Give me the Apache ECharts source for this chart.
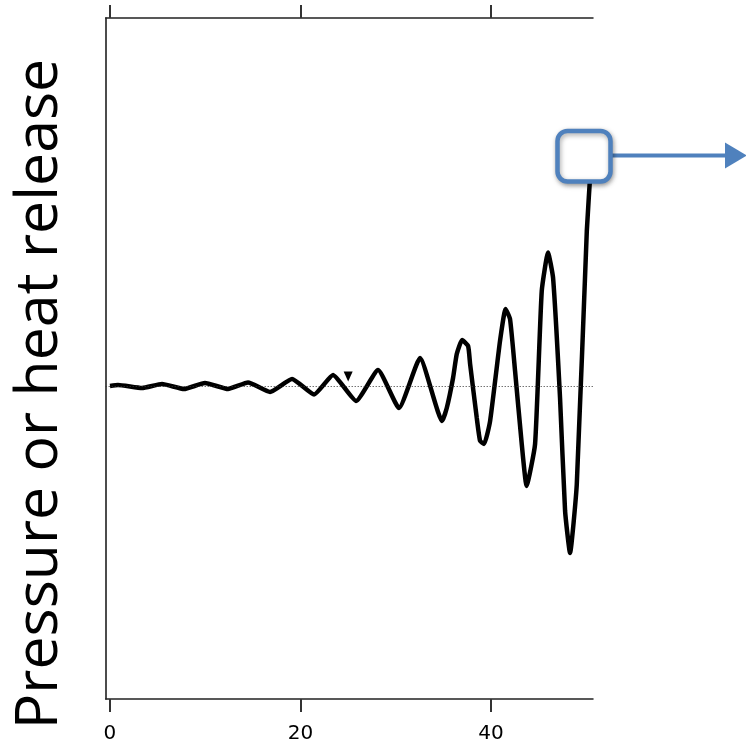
<!DOCTYPE html>
<html>
<head>
<meta charset="utf-8">
<script src="https://cdn.jsdelivr.net/npm/echarts@6/dist/echarts.min.js"></script>
<style>
	html, body { margin: 0; padding: 0; background: #fff; }
	#main { width: 746px; height: 745px; }
</style>
</head>
<body>
<div id="main"></div>
<script>
// time axis values and the oscillation (arbitrary units, zero = mean level)
var timeValues = [0, 0.84, 3.36, 5.46, 7.77, 9.97, 12.39, 14.49, 16.8, 19.11, 21.42, 23.41,
	25.83, 28.14, 30.34, 32.55, 34.86, 35.35, 36.01, 36.4, 36.96, 37.59, 37.8, 38.5, 38.85,
	39.27, 39.9, 40.94, 41.52, 41.99, 42.52, 43.22, 43.73, 44.62, 45.32, 45.98, 46.51, 47.24,
	47.77, 48.29, 49.0, 50.05, 50.5];
var signalValues = [0, 0.1, -0.2, 0.2, -0.3, 0.3, -0.3, 0.35, -0.6, 0.7, -0.85, 1.1,
	-1.5, 1.6, -2.2, 2.8, -3.5, -2.2, 0.8, 3.2, 4.6, 4.0, 2.2, -3.2, -5.5,
	-5.8, -3.5, 4.5, 7.7, 6.7, 1.5, -5.8, -10.0, -5.8, 9.5, 13.35, 10.8, -1.2,
	-12.5, -16.7, -9.8, 15.5, 22.5];
var tickValues = [0, 20, 40];
var markerX = [25];
var markerY = [0.95];
var yLabel = 'Pressure or heat release';

var chart = echarts.init(document.getElementById('main'));

var lineData = [];
timeValues.map(function(t, i) {
	lineData.push([t, signalValues[i]]);
});
var markerData = [];
markerX.map(function(t, i) {
	markerData.push([t, markerY[i]]);
});

var blue = '#4F81BD';

function timeAxis(pos, showLabel) {
	return {
		type: 'value',
		position: pos,
		min: -0.45,
		max: 50.7,
		axisLine: { show: true, onZero: false, lineStyle: { color: '#222', width: 1.5 } },
		axisTick: {
			show: true,
			customValues: tickValues,
			length: 13,
			lineStyle: { color: '#333', width: 2 }
		},
		axisLabel: {
			show: showLabel,
			customValues: tickValues,
			margin: 25,
			color: '#000',
			fontSize: 20,
			fontFamily: 'DejaVu Sans'
		},
		splitLine: { show: false }
	};
}

var option = {
	animation: false,
	backgroundColor: '#fff',
	grid: {
		left: 105.7,
		right: 153,
		top: 18,
		bottom: 46
	},
	xAxis: [timeAxis('bottom', true), timeAxis('top', false)],
	yAxis: {
		type: 'value',
		min: -31.3,
		max: 36.8,
		axisLine: { show: true, onZero: false, lineStyle: { color: '#111', width: 1.5 } },
		axisTick: { show: false },
		axisLabel: { show: false },
		splitLine: { show: false }
	},
	series: [{
		type: 'line',
		data: lineData,
		showSymbol: false,
		smooth: 0.15,
		lineStyle: { color: '#000', width: 4.5 },
		z: 3,
		markLine: {
			silent: true,
			symbol: 'none',
			label: { show: false },
			lineStyle: { color: '#333', type: [1, 2], width: 1 },
			data: [{ yAxis: 0 }]
		}
	}, {
		type: 'scatter',
		data: markerData,
		symbol: 'triangle',
		symbolRotate: 180,
		symbolSize: [9, 10],
		itemStyle: { color: '#000', opacity: 1 },
		z: 4
	}],
	graphic: [{
		type: 'text',
		x: 40,
		y: 394,
		rotation: Math.PI / 2,
		style: {
			text: yLabel,
			font: '59px "Open Sans"',
			fill: '#000',
			textAlign: 'center',
			textVerticalAlign: 'middle'
		}
	}, {
		type: 'line',
		shape: { x1: 612, y1: 155.5, x2: 727, y2: 155.5 },
		style: { stroke: blue, lineWidth: 4 },
		z: 10
	}, {
		type: 'polygon',
		shape: { points: [[725, 142.5], [747, 155.5], [725, 168.5]] },
		style: { fill: blue },
		z: 10
	}, {
		type: 'rect',
		shape: { x: 557.5, y: 131, width: 53, height: 50.5, r: 10 },
		style: {
			fill: '#fff',
			stroke: blue,
			lineWidth: 4.5,
			shadowBlur: 5,
			shadowOffsetX: 1,
			shadowOffsetY: 2,
			shadowColor: 'rgba(0,0,0,0.35)'
		},
		z: 11
	}]
};

chart.setOption(option);
</script>
</body>
</html>
